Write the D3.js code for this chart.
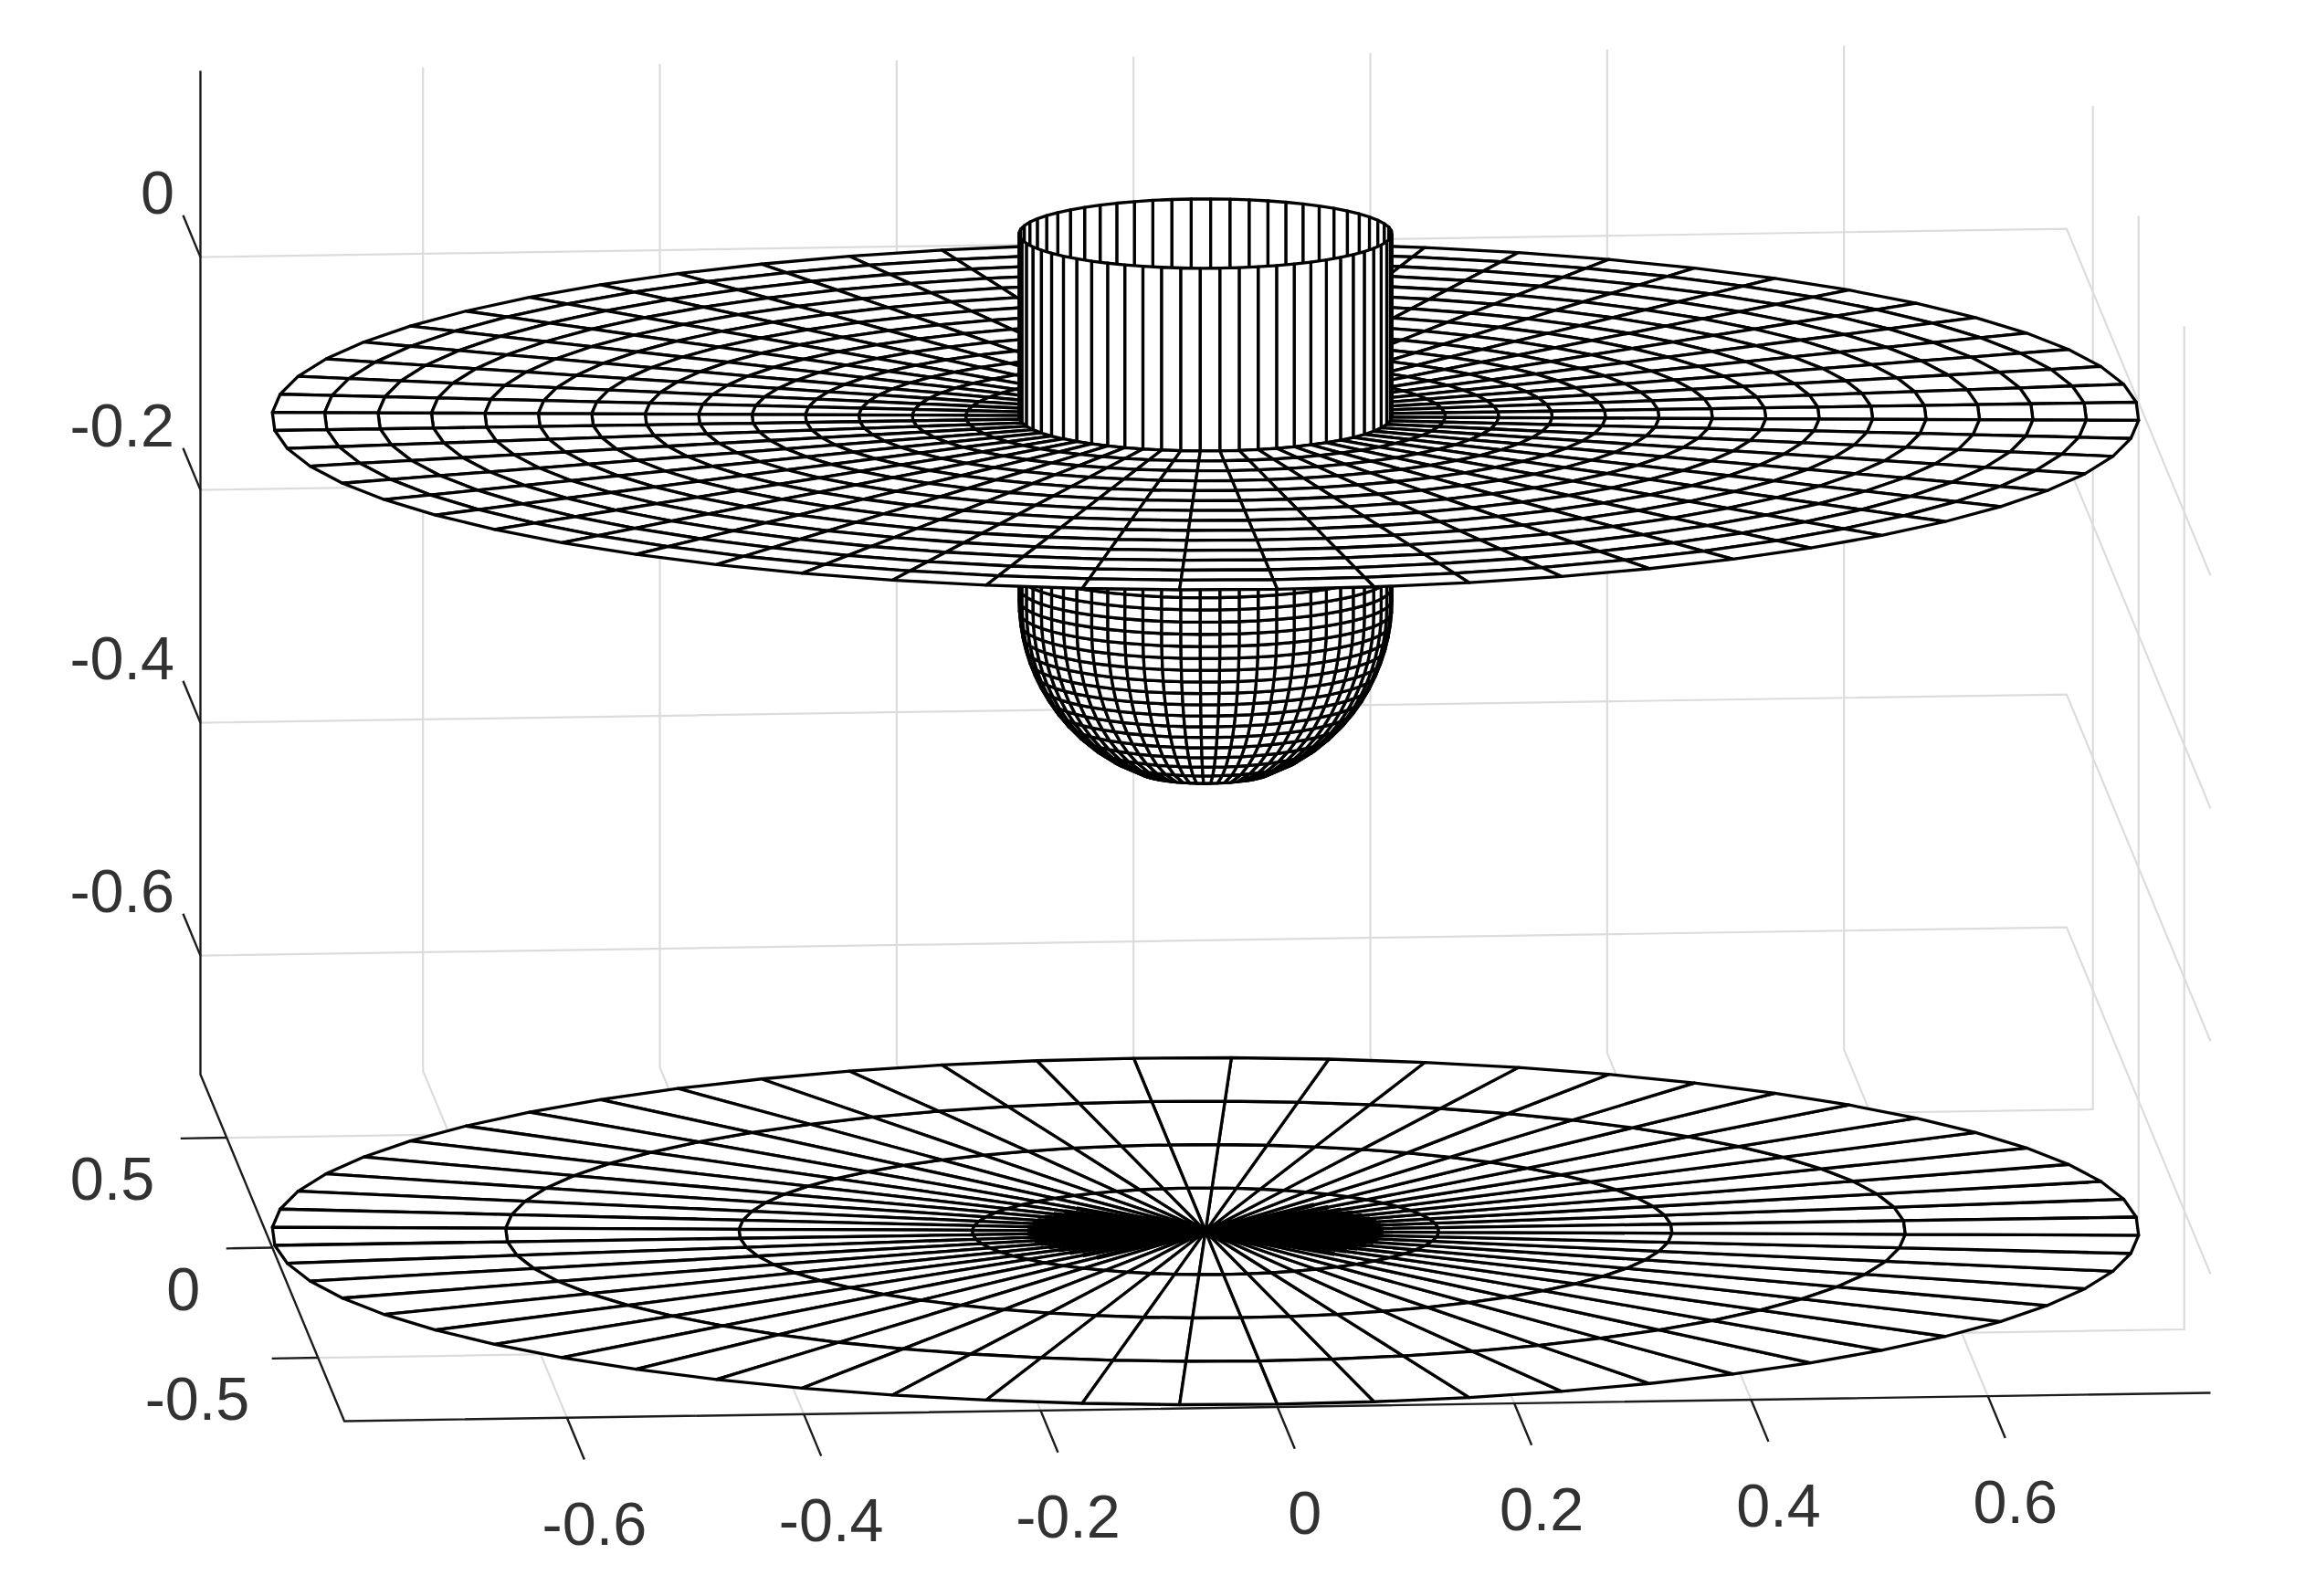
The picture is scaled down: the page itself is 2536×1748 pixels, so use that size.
<!DOCTYPE html>
<html>
<head>
<meta charset="utf-8">
<script src="https://cdn.jsdelivr.net/npm/d3@7"></script>
<style>
html,body{margin:0;padding:0;background:#fff;}
svg{display:block;}
text{font-family:"Liberation Sans",Arial,sans-serif;font-size:66.5px;fill:#333;}
</style>
</head>
<body>
<svg id="chart" width="2536" height="1748"></svg>
<script>
// ---- axis data ----
const xLimits = [-0.788, 0.788];
const yLimits = [-0.788, 0.788];
const zLimits = [-0.702, 0.16];
const xTicks = [-0.6, -0.4, -0.2, 0, 0.2, 0.4, 0.6];
const yTicks = [-0.5, 0, 0.5];
const zTicks = [-0.6, -0.4, -0.2, 0];
const xTickLabels = ["-0.6", "-0.4", "-0.2", "0", "0.2", "0.4", "0.6"];
const yTickLabels = ["-0.5", "0", "0.5"];
const zTickLabels = ["-0.6", "-0.4", "-0.2", "0"];

// ---- surface data ----
const spokeAnglesDeg = d3.range(0, 366, 6);
const bottomDiscZ = -0.7;
const bottomRingRadii = [0, 0.1965, 0.393, 0.5895, 0.786];
const topRingRadii = [0.157, 0.202, 0.247, 0.292, 0.337, 0.382, 0.427, 0.472, 0.517, 0.562, 0.607, 0.652, 0.697, 0.742, 0.786];
const cupRimZ = [0, 0.157];
const cupRimRadii = [0.157, 0.157];
const bowlZ = [0, -0.0105, -0.021, -0.0315, -0.042, -0.0525, -0.063, -0.0735, -0.084, -0.0945, -0.105,
  -0.1155, -0.126, -0.1365, -0.147, -0.1575, -0.168, -0.1785, -0.189, -0.1995, -0.21, -0.2205, -0.231,
  -0.2415, -0.252, -0.2625, -0.273, -0.2835, -0.294, -0.3045, -0.315];
const bowlRadii = [0.157, 0.157, 0.157, 0.157, 0.157, 0.157, 0.157, 0.157, 0.157, 0.157, 0.157,
  0.157, 0.157, 0.157, 0.157, 0.157, 0.15665, 0.1556, 0.15383, 0.15132, 0.14802, 0.14389, 0.13886,
  0.13281, 0.1256, 0.11702, 0.10674, 0.0942, 0.07833, 0.05636, 0];
const denseSpokeRadius = 0.15;

// ---- 3D view (orthographic) expressed through scales ----
const centre = [1320, 456];
const xToPx = d3.scaleLinear().domain([0, 1]).range([0, 1296.6]);
const yToPx = d3.scaleLinear().domain([0, 1]).range([0, -100]);
const xToPy = d3.scaleLinear().domain([0, 1]).range([0, -19.7]);
const yToPy = d3.scaleLinear().domain([0, 1]).range([0, -241]);
const zToPy = d3.scaleLinear().domain([0, 1]).range([0, -1275]);
const viewDirection = [-0.0739, -0.977, 0.186];

const project = ([x, y, z]) => [
  centre[0] + xToPx(x) + yToPx(y),
  centre[1] + xToPy(x) + yToPy(y) + zToPy(z)
];
const lineGen = d3.line();
const polyline = pts => lineGen(pts.map(project));
const closedPoly = pts => lineGen(pts.map(project)) + "Z";

const svg = d3.select("#chart");
const defs = svg.append("defs");
defs.append("filter").attr("id", "soft")
  .attr("x", 0).attr("y", 0).attr("width", 1).attr("height", 1)
  .attr("filterUnits", "objectBoundingBox")
  .append("feGaussianBlur").attr("stdDeviation", 0.75);

const root = svg.append("g").attr("filter", "url(#soft)");
root.append("rect").attr("width", 2536).attr("height", 1748).attr("fill", "#fff");

// ---- grid ----
const [xMin, xMax] = xLimits, [yMin, yMax] = yLimits, [zMin, zMax] = zLimits;
const gridPaths = [
  ...xTicks.map(x => [[x, yMin, zMin], [x, yMax, zMin], [x, yMax, zMax]]),
  ...yTicks.map(y => [[xMin, y, zMin], [xMax, y, zMin], [xMax, y, zMax]]),
  ...zTicks.map(z => [[xMin, yMax, z], [xMax, yMax, z], [xMax, yMin, z]])
];
root.append("g").selectAll("path").data(gridPaths).join("path")
  .attr("d", polyline)
  .attr("fill", "none").attr("stroke", "#dcdcdc").attr("stroke-width", 2.2);

// ---- axes and ticks ----
const axisPaths = [
  [[xMin, yMax, zMax], [xMin, yMax, zMin], [xMin, yMin, zMin], [xMax, yMin, zMin]]
];
const xTickLen = 0.19, yTickLen = 0.039, zTickLen = 0.19;
const tickPaths = [
  ...xTicks.map(x => [[x, yMin, zMin], [x, yMin - xTickLen, zMin]]),
  ...yTicks.map(y => [[xMin, y, zMin], [xMin - yTickLen, y, zMin]]),
  ...zTicks.map(z => [[xMin, yMax, z], [xMin, yMax + zTickLen, z]])
];
root.append("g").selectAll("path").data(axisPaths.concat(tickPaths)).join("path")
  .attr("d", polyline)
  .attr("fill", "none").attr("stroke", "#1c1c1c").attr("stroke-width", 2.4);

// ---- mesh quads ----
const polar = (r, deg, z) => {
  const a = deg * Math.PI / 180;
  return [r * Math.cos(a), r * Math.sin(a), z];
};
function revolve(radii, zs) {
  const quads = [];
  for (let i = 0; i < radii.length - 1; i++) {
    for (let j = 0; j < spokeAnglesDeg.length - 1; j++) {
      quads.push([
        polar(radii[i], spokeAnglesDeg[j], zs[i]),
        polar(radii[i + 1], spokeAnglesDeg[j], zs[i + 1]),
        polar(radii[i + 1], spokeAnglesDeg[j + 1], zs[i + 1]),
        polar(radii[i], spokeAnglesDeg[j + 1], zs[i])
      ]);
    }
  }
  return quads;
}
const depth = q => d3.mean(q, p => p[0] * viewDirection[0] + p[1] * viewDirection[1] + p[2] * viewDirection[2]);
const bottomDisc = revolve(bottomRingRadii, bottomRingRadii.map(() => bottomDiscZ));
const upper = [
  ...revolve(topRingRadii, topRingRadii.map(() => 0)),
  ...revolve(cupRimRadii, cupRimZ),
  ...revolve(bowlRadii, bowlZ)
];
const meshGroup = root.append("g");
meshGroup.append("g").selectAll("path").data(bottomDisc).join("path")
  .attr("d", closedPoly)
  .attr("fill", "#fff").attr("stroke", "#000").attr("stroke-width", 3.3).attr("stroke-linejoin", "round");

// the closely packed spokes at the centre of the lower disc merge into solid black
const denseSpokes = spokeAnglesDeg.slice(0, -1)
  .filter(deg => Math.abs(Math.sin(deg * Math.PI / 180)) < 0.8)
  .map(deg => [[0, 0, bottomDiscZ], polar(denseSpokeRadius, deg, bottomDiscZ)]);
meshGroup.append("g").selectAll("path").data(denseSpokes).join("path")
  .attr("d", polyline)
  .attr("fill", "none").attr("stroke", "#000").attr("stroke-width", 4.8);

meshGroup.append("g").selectAll("path").data(d3.sort(upper, depth)).join("path")
  .attr("d", closedPoly)
  .attr("fill", "#fff").attr("stroke", "#000").attr("stroke-width", 3.3).attr("stroke-linejoin", "round");

// ---- tick labels ----
const labelLayer = root.append("g");
labelLayer.selectAll("text.x").data(xTicks).join("text").attr("class", "x")
  .attr("x", x => project([x, yMin, zMin])[0] + 30)
  .attr("y", x => project([x, yMin, zMin])[1] + 116)
  .attr("text-anchor", "middle").attr("dominant-baseline", "central")
  .text((d, i) => xTickLabels[i]);
labelLayer.selectAll("text.y").data(yTicks).join("text").attr("class", "y")
  .attr("x", (y, i) => project([xMin, y, zMin])[0] - 79 + (i === 0 ? 4 : 0))
  .attr("y", y => project([xMin, y, zMin])[1] + 45)
  .attr("text-anchor", "end").attr("dominant-baseline", "central")
  .text((d, i) => yTickLabels[i]);
labelLayer.selectAll("text.z").data(zTicks).join("text").attr("class", "z")
  .attr("x", 191)
  .attr("y", z => project([xMin, yMax, z])[1] - 71)
  .attr("text-anchor", "end").attr("dominant-baseline", "central")
  .text((d, i) => zTickLabels[i]);
</script>
</body>
</html>
